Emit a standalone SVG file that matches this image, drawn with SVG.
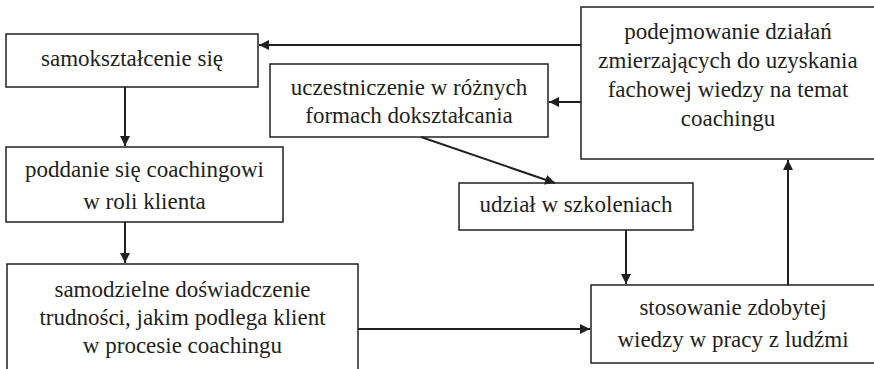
<svg xmlns="http://www.w3.org/2000/svg" width="874" height="369" viewBox="0 0 874 369">
<defs>
<style>
.box{fill:#fff;stroke:#231f20;stroke-width:1.5}
.c{stroke:#231f20;stroke-width:2;fill:none}
text{font-family:"Liberation Serif","Times New Roman",serif;font-size:23px;fill:#231f20;text-anchor:middle}
</style>
<marker id="ah" viewBox="0 0 10 10" refX="10" refY="5" markerWidth="10" markerHeight="10" markerUnits="userSpaceOnUse" orient="auto">
<path d="M0,0 L10,5 L0,10 z" fill="#231f20"/>
</marker>
</defs>
<rect width="874" height="369" fill="#fff"/>
<g id="n1"><rect class="box" x="6" y="34" width="252" height="53"/><text x="132" y="66" font-family="Liberation Serif, serif">samokształcenie się</text></g>
<g id="n2"><rect class="box" x="6" y="147" width="277" height="75"/><text x="144.5" y="177" font-family="Liberation Serif, serif">poddanie się coachingowi</text><text x="144.5" y="209" font-family="Liberation Serif, serif">w roli klienta</text></g>
<g id="n3"><rect class="box" x="7" y="264" width="351" height="110"/><text x="182.5" y="297" font-family="Liberation Serif, serif">samodzielne doświadczenie</text><text x="182.5" y="325" font-family="Liberation Serif, serif">trudności, jakim podlega klient</text><text x="182.5" y="353" font-family="Liberation Serif, serif">w procesie coachingu</text></g>
<g id="n4"><rect class="box" x="270" y="64" width="278" height="73"/><text x="409" y="95" font-family="Liberation Serif, serif">uczestniczenie w różnych</text><text x="409" y="123" font-family="Liberation Serif, serif">formach dokształcania</text></g>
<g id="n5"><rect class="box" x="581" y="7" width="294" height="152"/><text x="728" y="39" font-family="Liberation Serif, serif">podejmowanie działań</text><text x="728" y="68" font-family="Liberation Serif, serif">zmierzających do uzyskania</text><text x="728" y="97" font-family="Liberation Serif, serif">fachowej wiedzy na temat</text><text x="728" y="126" font-family="Liberation Serif, serif">coachingu</text></g>
<g id="n6"><rect class="box" x="459" y="183" width="234" height="47"/><text x="576" y="212" font-family="Liberation Serif, serif">udział w szkoleniach</text></g>
<g id="n7"><rect class="box" x="591" y="285" width="284" height="78"/><text x="733" y="315" font-family="Liberation Serif, serif">stosowanie zdobytej</text><text x="733" y="347" font-family="Liberation Serif, serif">wiedzy w pracy z ludźmi</text></g>
<g id="connectors">
<line class="c" x1="581" y1="45" x2="259" y2="45" marker-end="url(#ah)"/>
<line class="c" x1="581" y1="102" x2="549" y2="102" marker-end="url(#ah)"/>
<line class="c" x1="125" y1="87" x2="125" y2="146" marker-end="url(#ah)"/>
<line class="c" x1="125" y1="222" x2="125" y2="263" marker-end="url(#ah)"/>
<line class="c" x1="421" y1="137" x2="555" y2="183" marker-end="url(#ah)"/>
<line class="c" x1="626" y1="230" x2="626" y2="284" marker-end="url(#ah)"/>
<line class="c" x1="358" y1="329" x2="590" y2="329" marker-end="url(#ah)"/>
<line class="c" x1="788" y1="285" x2="788" y2="160" marker-end="url(#ah)"/>
</g>
</svg>
